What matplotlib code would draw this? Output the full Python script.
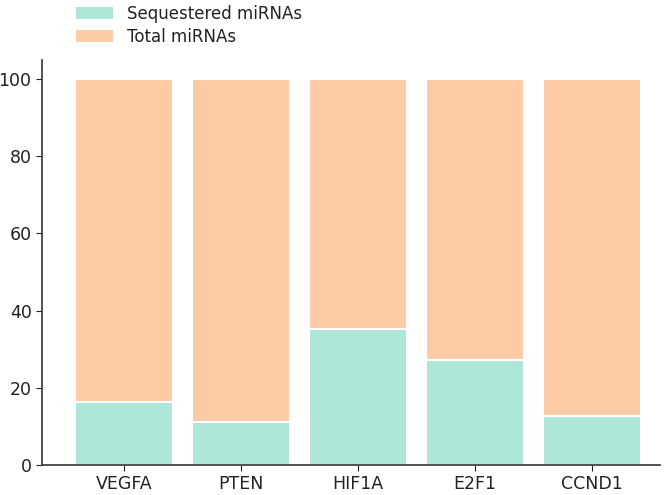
import matplotlib
matplotlib.use("Agg")
import matplotlib.pyplot as plt

genes = ["VEGFA", "PTEN", "HIF1A", "E2F1", "CCND1"]
total = [100, 100, 100, 100, 100]
sequestered = [16.4, 11.2, 35.2, 27.2, 12.8]

fig = plt.figure(figsize=(6.72, 4.95), dpi=100)
ax = fig.add_axes([0.0625, 0.0606, 0.9195, 0.8185])

# total drawn first, sequestered on top of it
ax.bar(genes, total, width=0.84, color="#fdcaa6", edgecolor="white", linewidth=1.5, label="Total miRNAs")
ax.bar(genes, sequestered, width=0.84, color="#aee6da", edgecolor="white", linewidth=1.5, label="Sequestered miRNAs")

ax.set_xlim(-0.70, 4.58)
ax.set_ylim(0, 105)
ax.set_yticks([0, 20, 40, 60, 80, 100])
for s in ["top", "right"]:
    ax.spines[s].set_visible(False)
for s in ["left", "bottom"]:
    ax.spines[s].set_color("#333333")
    ax.spines[s].set_linewidth(1.2)
ax.tick_params(labelsize=12.5, colors="#222222", length=4)

handles, labels = ax.get_legend_handles_labels()
fig.legend(handles[::-1], labels[::-1], loc="upper left", bbox_to_anchor=(0.09, 1.02),
           frameon=False, fontsize=12, handlelength=2.3, handleheight=0.9,
           labelspacing=0.3, labelcolor="#222222")

fig.savefig("out.png", dpi=100)
